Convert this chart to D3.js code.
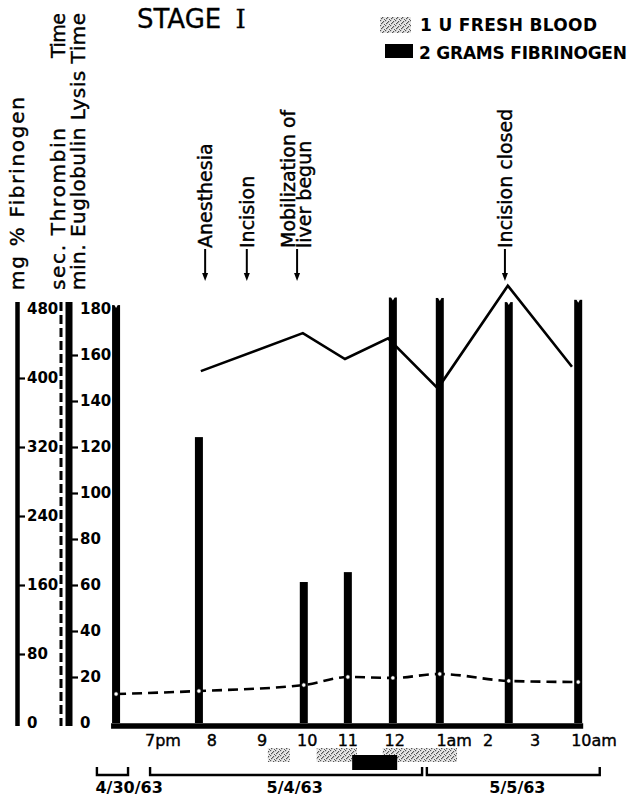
<!DOCTYPE html>
<html><head><meta charset="utf-8">
<script src="https://cdn.jsdelivr.net/npm/d3@7"></script>
<style>body{margin:0;background:#fff}svg{display:block}</style>
</head><body><svg id="c" width="632" height="802"></svg>
<script>
// ---------------- data (time in hour-steps, 0 = 7pm of 5/4/63) ----------------
const xLabels   = ["7pm","8","9","10","11","12","1am","2","3","10am"];
const xLabelPos = [0, 1.02, 2.07, 3.01, 3.86, 4.84, 6.08, 6.79, 7.77, 9];
const sampleTimes  = [-0.98, 0.75, 2.94, 3.86, 4.80, 5.78, 7.22, 8.67];
const lysisMin     = [181.7, 124.3, 61.3, 65.6, 185, 184.8, 183, 184];   // bars
const thrombinSec  = [12.6, 13.9, 16.5, 20, 19.6, 21.3, 18.3, 17.8];       // dashed line
const fibTimes     = [0.79, 2.92, 3.80, 4.70, 5.74, 7.20, 8.54];
const fibrinogenMg = [408, 452, 422, 446, 388, 507, 413];                  // solid line
const fibTicks = [0, 80, 160, 240, 320, 400, 480];
const secTicks = [0, 20, 40, 60, 80, 100, 120, 140, 160, 180];
const bloodUnits      = [[2.19, 2.65], [3.21, 4.05], [4.59, 5.36], [5.36, 6.14]];
const fibrinogenDoses = [[3.95, 4.89]];
const eventLabels = [["Anesthesia"], ["Incision"], ["Mobilization of", "liver begun"], ["Incision closed"]];
const eventTimes  = [0.88, 1.75, 2.80, 7.14];
const dateLabels = ["4/30/63", "5/4/63", "5/5/63"];
const dateFrom   = [-1.38, -0.27, 5.51];
const dateTo     = [-0.73, 5.41, 9.12];
const dateLabelAt = [-1.41, 2.75, 7.40];
const legendLabels = ["1 U FRESH BLOOD", "2 GRAMS FIBRINOGEN"];

// ---------------- scales ----------------
const svg = d3.select("#c");
const x = d3.scaleLinear().domain([0, 9]).range([163, 594]);
const ySec = d3.scaleLinear().domain([0, 180]).range([723, 309]);
const yFib = d3.scaleLinear().domain([0, 480]).range([723, 309]);
const FONT = "DejaVu Sans, Liberation Sans, sans-serif";

const defs = svg.append("defs");
const pat = defs.append("pattern").attr("id", "stip").attr("width", 5).attr("height", 5)
  .attr("patternUnits", "userSpaceOnUse");
pat.append("rect").attr("width", 5).attr("height", 5).attr("fill", "#e6e6e6");
[[0,0],[3,1],[1,3],[4,4],[2,2]].forEach(([a,b]) =>
  pat.append("rect").attr("x", a).attr("y", b).attr("width", 1.2).attr("height", 1.2).attr("fill", "#555"));

// ---------------- title & legend ----------------
const title = svg.append("text").attr("x", 137).attr("y", 28).attr("font-family", FONT).attr("font-size", 26)
  .attr("stroke", "#000").attr("stroke-width", 0.3);
title.append("tspan").text("STAGE ");
title.append("tspan").attr("font-family", "DejaVu Serif, Liberation Serif, serif").attr("dx", 6).text("I");

const legSw = [{fill: "url(#stip)", x: 380, y: 17, w: 31, h: 16}, {fill: "#000", x: 385, y: 44, w: 28, h: 14}];
legendLabels.forEach((t, i) => {
  svg.append("rect").attr("x", legSw[i].x).attr("y", legSw[i].y).attr("width", legSw[i].w)
    .attr("height", legSw[i].h).attr("fill", legSw[i].fill);
  svg.append("text").attr("x", i ? 419 : 420).attr("y", i ? 59 : 31).attr("font-family", FONT)
    .attr("font-size", 17).attr("font-weight", "bold")
    .attr("textLength", i ? 208 : 177).attr("lengthAdjust", "spacing").text(t);
});

// ---------------- left axis titles (rotated) ----------------
function vtext(tx, ty, str, len, size) {
  svg.append("text").attr("transform", `translate(${tx},${ty}) rotate(-90)`)
    .attr("font-family", FONT).attr("font-size", size)
    .attr("stroke", "#000").attr("stroke-width", 0.4)
    .attr("textLength", len).attr("lengthAdjust", "spacing").text(str);
}
vtext(24, 290, "mg % Fibrinogen", 193, 20);
vtext(65, 290, "sec. Thrombin", 162, 20);
vtext(65, 58, "Time", 45, 19);
vtext(85, 290, "min. Euglobulin Lysis Time", 277, 20);

// ---------------- y axes ----------------
const axTop = ySec(183), axBot = ySec(0) + 3;
svg.append("line").attr("x1", 17.5).attr("x2", 17.5).attr("y1", axTop).attr("y2", axBot)
  .attr("stroke", "#000").attr("stroke-width", 4.5);
svg.append("line").attr("x1", 61).attr("x2", 61).attr("y1", axTop).attr("y2", axBot)
  .attr("stroke", "#000").attr("stroke-width", 3).attr("stroke-dasharray", "9,4");
svg.append("line").attr("x1", 69).attr("x2", 69).attr("y1", axTop).attr("y2", axBot)
  .attr("stroke", "#000").attr("stroke-width", 7);

const fibAxis = svg.append("g").attr("transform", "translate(19,0)")
  .call(d3.axisRight(yFib).tickValues(fibTicks).tickSize(6).tickPadding(2));
const secAxis = svg.append("g").attr("transform", "translate(72,0)")
  .call(d3.axisRight(ySec).tickValues(secTicks).tickSize(6).tickPadding(2));
[fibAxis, secAxis].forEach(g => {
  g.select(".domain").remove();
  g.selectAll(".tick line").attr("stroke", "#000").attr("stroke-width", 2.2);
  g.selectAll(".tick text").attr("font-family", FONT).attr("font-size", 15)
    .attr("font-weight", "bold").attr("fill", "#000");
});
fibAxis.selectAll(".tick").filter(d => d === 0 || d === 480).select("line").remove();
secAxis.selectAll(".tick").filter(d => d === 0 || d === 180).select("line").remove();

// ---------------- bars (euglobulin lysis time) ----------------
const bw = 8;
svg.selectAll("rect.bar").data(sampleTimes).join("rect").attr("class", "bar")
  .attr("x", d => x(d) - bw / 2).attr("width", bw)
  .attr("y", (d, i) => ySec(lysisMin[i])).attr("height", (d, i) => ySec(0) - ySec(lysisMin[i]))
  .attr("fill", "#000");
// notched (cut) tops for off-scale bars
svg.selectAll("path.notch").data(sampleTimes.filter((d, i) => lysisMin[i] > 180)).join("path")
  .attr("class", "notch")
  .attr("d", (d) => {
    const i = sampleTimes.indexOf(d); const cx = x(d), ty = ySec(lysisMin[i]);
    return `M${cx - 2},${ty - 0.5} L${cx},${ty + 3} L${cx + 2},${ty - 0.5} Z`;
  }).attr("fill", "#fff");

// baseline
svg.append("line").attr("x1", x(d3.min(sampleTimes)) - bw / 2 - 1).attr("x2", x(d3.max(sampleTimes)) + bw / 2 + 1)
  .attr("y1", ySec(0) + 3).attr("y2", ySec(0) + 3).attr("stroke", "#000").attr("stroke-width", 5.5);

// ---------------- lines ----------------
svg.append("path").datum(fibTimes.map((t, i) => [t, fibrinogenMg[i]]))
  .attr("d", d3.line().x(d => x(d[0])).y(d => yFib(d[1])))
  .attr("fill", "none").attr("stroke", "#000").attr("stroke-width", 2.6).attr("stroke-linejoin", "miter");

svg.append("path").datum(sampleTimes.map((t, i) => [t, thrombinSec[i]]))
  .attr("d", d3.line().x(d => x(d[0])).y(d => ySec(d[1])).curve(d3.curveMonotoneX))
  .attr("fill", "none").attr("stroke", "#000").attr("stroke-width", 2.6).attr("stroke-dasharray", "10,6");
svg.selectAll("circle.pt").data(sampleTimes).join("circle").attr("class", "pt")
  .attr("cx", d => x(d)).attr("cy", (d, i) => ySec(thrombinSec[i])).attr("r", 2.2)
  .attr("fill", "#fff").attr("stroke", "#000").attr("stroke-width", 0.8);

// ---------------- x axis labels ----------------
svg.selectAll("text.xl").data(xLabels).join("text").attr("class", "xl")
  .attr("x", (d, i) => x(xLabelPos[i])).attr("y", 746).attr("text-anchor", "middle")
  .attr("font-family", FONT).attr("font-size", 16).attr("stroke", "#000").attr("stroke-width", 0.4)
  .text(d => d);

// ---------------- transfusion blocks ----------------
svg.selectAll("rect.blood").data(bloodUnits).join("rect").attr("class", "blood")
  .attr("x", d => x(d[0])).attr("width", d => x(d[1]) - x(d[0]))
  .attr("y", 748).attr("height", 14).attr("fill", "url(#stip)");
svg.selectAll("rect.fib").data(fibrinogenDoses).join("rect").attr("class", "fib")
  .attr("x", d => x(d[0])).attr("width", d => x(d[1]) - x(d[0]))
  .attr("y", 755).attr("height", 15).attr("fill", "#000");

// ---------------- date brackets ----------------
dateLabels.forEach((lab, i) => {
  const x0 = x(dateFrom[i]), x1 = x(dateTo[i]), yb = 775;
  svg.append("path").attr("d", `M${x0},${yb - 8} L${x0},${yb} L${x1},${yb} L${x1},${yb - 8}`)
    .attr("fill", "none").attr("stroke", "#000").attr("stroke-width", 2.4);
  svg.append("text").attr("x", x(dateLabelAt[i])).attr("y", 793)
    .attr("text-anchor", i === 0 ? "start" : "middle")
    .attr("font-family", FONT).attr("font-size", 16).attr("font-weight", "bold").text(lab);
});

// ---------------- event annotations ----------------
eventLabels.forEach((lines, i) => {
  const ax = x(eventTimes[i]);
  const tipY = 281, startY = 249;
  svg.append("line").attr("x1", ax).attr("x2", ax).attr("y1", startY).attr("y2", tipY - 4)
    .attr("stroke", "#000").attr("stroke-width", 2);
  svg.append("path").attr("d", `M${ax - 3},${tipY - 8} L${ax + 3},${tipY - 8} L${ax},${tipY} Z`).attr("fill", "#000");
  const offs = lines.length === 1 ? [7] : [-2, 14];
  lines.forEach((ln, j) => {
    svg.append("text").attr("transform", `translate(${ax + offs[j]},${startY - 1}) rotate(-90)`)
      .attr("font-family", FONT).attr("font-size", 19).attr("stroke", "#000").attr("stroke-width", 0.4)
      .text(ln);
  });
});
</script></body></html>
